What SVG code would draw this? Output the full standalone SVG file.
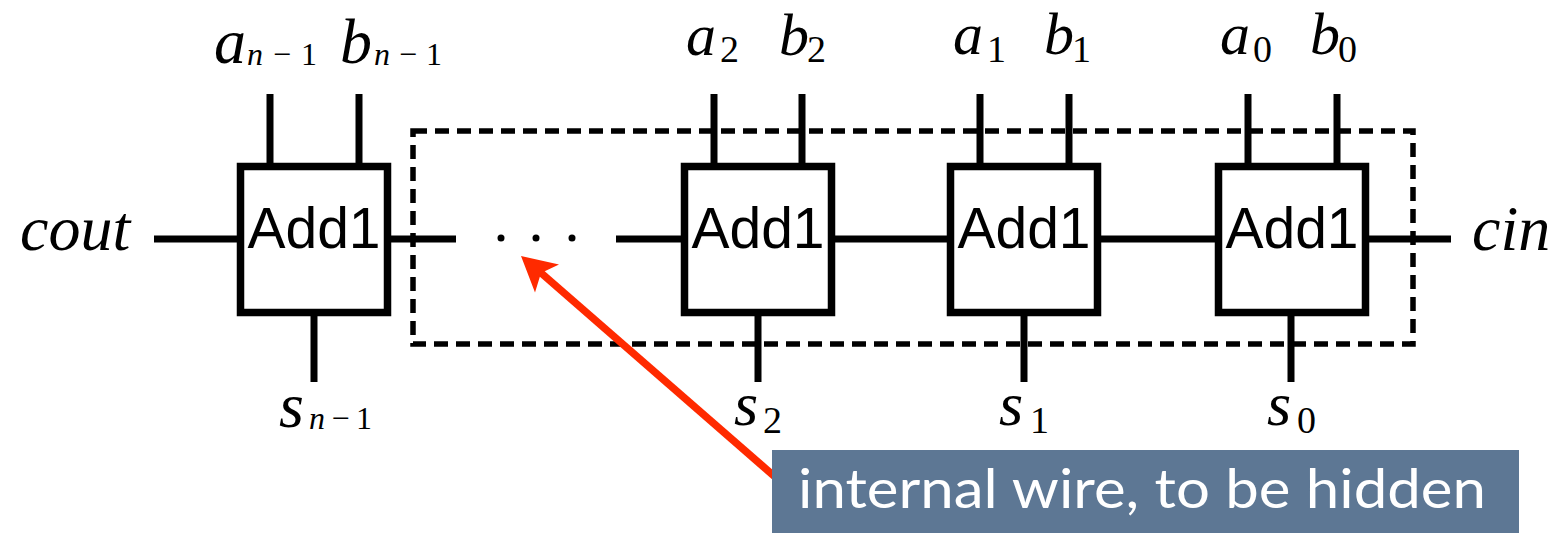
<svg xmlns="http://www.w3.org/2000/svg" width="1563" height="533" viewBox="0 0 1563 533">
<style>
.box{fill:#fff;stroke:#000;stroke-width:7.5}
.w{stroke:#000;stroke-width:7;fill:none}
.add{font-family:"Liberation Sans",Arial,sans-serif;font-size:57px;text-anchor:middle;fill:#000}
.m{font-family:"Liberation Serif","Times New Roman",serif;font-style:italic;fill:#000}
.r{font-family:"Liberation Serif","Times New Roman",serif;font-style:normal;fill:#000}
.big{font-size:64px}
.mid{font-size:60px}
.sm{font-size:62px}
.sub{font-size:38px}
.subn{font-size:32px}
.call{font-family:Lato,"Open Sans",sans-serif;font-size:54px;fill:#fff}
</style>
<rect width="1563" height="533" fill="#fff"/>
<g id="hidden-region">
<rect x="413" y="131" width="1000" height="213" fill="none" stroke="#000" stroke-width="5.5" stroke-dasharray="14 8"/>
</g>
<g id="connectors">
<line class="w" x1="154" y1="239" x2="240" y2="239"/>
<line class="w" x1="388" y1="239" x2="456" y2="239"/>
<line class="w" x1="616" y1="239" x2="684" y2="239"/>
<line class="w" x1="832" y1="239" x2="950" y2="239"/>
<line class="w" x1="1098" y1="239" x2="1218" y2="239"/>
<line class="w" x1="1366" y1="239" x2="1451" y2="239"/>
<line class="w" x1="270" y1="94" x2="270" y2="166"/>
<line class="w" x1="359" y1="94" x2="359" y2="166"/>
<line class="w" x1="314" y1="313" x2="314" y2="382"/>
<line class="w" x1="714" y1="94" x2="714" y2="166"/>
<line class="w" x1="802" y1="94" x2="802" y2="166"/>
<line class="w" x1="758" y1="313" x2="758" y2="382"/>
<line class="w" x1="980" y1="94" x2="980" y2="166"/>
<line class="w" x1="1069" y1="94" x2="1069" y2="166"/>
<line class="w" x1="1024" y1="313" x2="1024" y2="382"/>
<line class="w" x1="1248" y1="94" x2="1248" y2="166"/>
<line class="w" x1="1337" y1="94" x2="1337" y2="166"/>
<line class="w" x1="1291" y1="313" x2="1291" y2="382"/>
</g>
<g id="dots">
<circle cx="501" cy="238" r="3.5" fill="#000"/>
<circle cx="536" cy="238" r="3.5" fill="#000"/>
<circle cx="572" cy="238" r="3.5" fill="#000"/>
</g>
<g id="add-n-1"><rect class="box" x="240.5" y="166.5" width="147" height="146"/><text class="add" x="314" y="248">Add1</text></g>
<g id="add-2"><rect class="box" x="684.5" y="166.5" width="147" height="146"/><text class="add" x="758" y="248">Add1</text></g>
<g id="add-1"><rect class="box" x="950.5" y="166.5" width="147" height="146"/><text class="add" x="1024" y="248">Add1</text></g>
<g id="add-0"><rect class="box" x="1218.5" y="166.5" width="147" height="146"/><text class="add" x="1292" y="248">Add1</text></g>
<g id="labels">
<text class="m big" x="20" y="250">cout</text>
<text class="m big" x="1472" y="250">cin</text>
<text class="m big" x="214" y="63">a</text><text class="m subn" x="247" y="65" textLength="70" lengthAdjust="spacing">n<tspan class="r">−1</tspan></text>
<text class="m big" x="340" y="63">b</text><text class="m subn" x="374" y="65" textLength="68" lengthAdjust="spacing">n<tspan class="r">−1</tspan></text>
<text class="m big" x="279" y="427">s</text><text class="m subn" x="309" y="429" textLength="63" lengthAdjust="spacing">n<tspan class="r">−1</tspan></text>
<text class="m mid" x="686" y="55">a</text><text class="r sub" x="720" y="62">2</text>
<text class="m mid" x="779" y="55">b</text><text class="r sub" x="807" y="62">2</text>
<text class="m mid" x="953" y="54">a</text><text class="r sub" x="987" y="62">1</text>
<text class="m mid" x="1044" y="54">b</text><text class="r sub" x="1072" y="62">1</text>
<text class="m mid" x="1220" y="54">a</text><text class="r sub" x="1253" y="62">0</text>
<text class="m mid" x="1310" y="54">b</text><text class="r sub" x="1338" y="62">0</text>
<text class="m sm" x="734" y="425">s</text><text class="r sub" x="763" y="433">2</text>
<text class="m sm" x="999" y="425">s</text><text class="r sub" x="1030" y="433">1</text>
<text class="m sm" x="1267" y="425">s</text><text class="r sub" x="1297" y="433">0</text>
</g>
<g id="callout-arrow">
<line x1="540" y1="272" x2="790" y2="490" stroke="#ff2a00" stroke-width="7.5"/>
<polygon points="521,256 559,264.5 541,273 535,292.5" fill="#ff2a00"/>
</g>
<g id="callout">
<rect x="772" y="450" width="747" height="90" fill="#5d7794"/>
<text class="call" x="798" y="508" textLength="688" lengthAdjust="spacingAndGlyphs">internal wire, to be hidden</text>
</g>
</svg>
